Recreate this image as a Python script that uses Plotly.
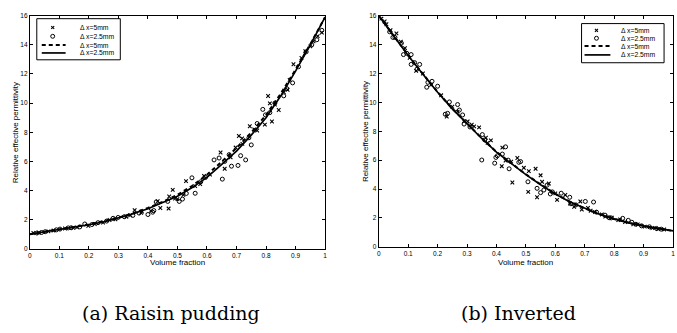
import plotly.graph_objects as go

# ---------------- data: (a) Raisin pudding ----------------
rp_cross_f = [0.012, 0.063, 0.119, 0.147, 0.198, 0.248, 0.27, 0.327, 0.355, 0.377, 0.433, 0.442, 0.470,
              0.472, 0.484, 0.492, 0.50, 0.529, 0.577, 0.59, 0.646, 0.66, 0.68, 0.697, 0.708, 0.719,
              0.745, 0.77, 0.796, 0.807, 0.813, 0.82, 0.843, 0.86, 0.873, 0.893, 0.933, 0.961, 0.989,
              0.03, 0.08, 0.16, 0.22, 0.29, 0.34, 0.38, 0.41, 0.52, 0.56, 0.61, 0.72, 0.76, 0.83,
              0.88, 0.92, 0.95, 0.975]
rp_cross_v = [1.08, 1.19, 1.39, 1.43, 1.57, 1.79, 1.97, 2.2, 2.65, 2.47, 3.27, 2.80, 2.76,
              3.59, 4.04, 3.45, 3.41, 4.64, 4.44, 5.0, 6.61, 5.49, 6.28, 6.95, 7.74, 7.58,
              8.41, 8.12, 8.52, 10.49, 9.98, 8.74, 9.53, 10.76, 10.92, 12.67, 13.57, 14.24, 14.84,
              1.1, 1.25, 1.47, 1.7, 2.02, 2.3, 2.55, 2.6, 3.7, 4.3, 5.1, 7.2, 8.2, 9.9,
              11.6, 13.1, 13.9, 14.6]
rp_circ_f = [0.024, 0.052, 0.102, 0.13, 0.169, 0.186, 0.231, 0.282, 0.299, 0.349, 0.40, 0.416, 0.428,
             0.467, 0.506, 0.517, 0.549, 0.56, 0.579, 0.624, 0.641, 0.652, 0.675, 0.683, 0.705, 0.714,
             0.731, 0.75, 0.742, 0.789, 0.798, 0.813, 0.86, 0.89, 0.936, 0.972, 0.989,
             0.04, 0.09, 0.14, 0.21, 0.26, 0.32, 0.37, 0.42, 0.53, 0.595, 0.66, 0.77, 0.83, 0.87,
             0.91, 0.955]
rp_circ_v = [1.08, 1.17, 1.35, 1.43, 1.50, 1.70, 1.79, 2.09, 2.15, 2.29, 2.35, 2.51, 3.21,
             3.25, 3.25, 3.41, 4.87, 3.81, 4.6, 6.1, 6.23, 4.78, 6.46, 5.67, 5.72, 6.39,
             6.10, 7.13, 7.62, 9.57, 9.19, 9.35, 10.5, 11.39, 13.52, 14.35, 15.0,
             1.12, 1.3, 1.44, 1.66, 1.9, 2.2, 2.45, 2.62, 3.8, 4.9, 6.0, 8.6, 10.0, 11.0,
             12.5, 14.0]
curve_f = [0.0, 0.05, 0.1, 0.15, 0.2, 0.25, 0.3, 0.35, 0.4, 0.45, 0.5, 0.55, 0.6, 0.65, 0.7,
           0.75, 0.8, 0.85, 0.9, 0.95, 1.0]
rp_dash_v = [1.0, 1.15, 1.32, 1.49, 1.67, 1.88, 2.13, 2.44, 2.8, 3.22, 3.7, 4.32, 5.08, 5.98, 6.92,
             7.98, 9.18, 10.65, 12.3, 14.05, 15.9]
rp_solid_v = [1.0, 1.15, 1.32, 1.48, 1.65, 1.85, 2.1, 2.4, 2.75, 3.15, 3.6, 4.2, 4.9, 5.8, 6.7,
              7.8, 9.0, 10.5, 12.2, 14.0, 15.9]

# ---------------- data: (b) Inverted ----------------
inv_cross_f = [0.009, 0.026, 0.06, 0.089, 0.105, 0.127, 0.178, 0.212, 0.231, 0.268, 0.302, 0.316, 0.324,
               0.341, 0.364, 0.381, 0.42, 0.418, 0.431, 0.454, 0.471, 0.493, 0.51, 0.508, 0.533, 0.538,
               0.55, 0.555, 0.578, 0.606, 0.634, 0.664, 0.685, 0.69, 0.711, 0.735, 0.758, 0.792, 0.814,
               0.837, 0.865, 0.904, 0.949,
               0.02, 0.04, 0.075, 0.15, 0.25, 0.29, 0.37, 0.45, 0.6, 0.65, 0.72, 0.77, 0.82, 0.88,
               0.93, 0.97]
inv_cross_v = [15.8, 15.41, 14.78, 13.76, 13.08, 12.18, 11.21, 10.49, 9.02, 9.36, 8.68, 8.45, 8.34,
               8.27, 7.55, 7.37, 6.87, 5.58, 5.97, 4.45, 6.15, 5.47, 5.24, 3.80, 5.40, 3.43,
               4.95, 4.5, 4.38, 3.25, 3.59, 2.76, 3.14, 2.58, 2.69, 2.40, 2.24, 2.01, 1.85,
               1.72, 1.56, 1.40, 1.22,
               15.6, 15.0, 14.2, 12.0, 9.7, 8.7, 7.2, 5.9, 3.7, 3.0, 2.5, 2.1, 1.9, 1.55,
               1.3, 1.2]
inv_circ_f = [0.037, 0.048, 0.077, 0.084, 0.11, 0.11, 0.122, 0.139, 0.163, 0.181, 0.2, 0.167, 0.226,
              0.234, 0.24, 0.268, 0.274, 0.285, 0.29, 0.352, 0.35, 0.394, 0.398, 0.403, 0.431, 0.42,
              0.443, 0.476, 0.482, 0.507, 0.538, 0.55, 0.561, 0.572, 0.583, 0.62, 0.649, 0.653, 0.702,
              0.73, 0.769, 0.783, 0.829, 0.848, 0.874, 0.893, 0.944,
              0.055, 0.095, 0.13, 0.31, 0.36, 0.44, 0.59, 0.67, 0.74, 0.79, 0.86, 0.92, 0.96]
inv_circ_v = [14.89, 14.5, 14.1, 13.31, 13.31, 12.63, 12.75, 12.63, 11.05, 11.46, 11.12, 11.39, 9.18,
              9.24, 10.03, 9.85, 9.47, 9.13, 8.5, 7.77, 6.01, 5.79, 6.19, 6.3, 6.92, 6.42,
              5.4, 5.85, 5.9, 4.5, 4.05, 3.75, 3.93, 4.27, 3.66, 3.71, 3.43, 2.98, 3.14,
              3.1, 2.19, 2.01, 1.97, 1.83, 1.56, 1.45, 1.27,
              14.5, 13.4, 12.3, 8.3, 7.4, 6.0, 3.8, 2.9, 2.4, 2.0, 1.7, 1.38, 1.22]
inv_dash_v = [16.0, 14.62, 13.27, 11.97, 10.72, 9.57, 8.52, 7.52, 6.57, 5.77, 5.02, 4.32, 3.67,
              3.12, 2.66, 2.26, 1.93, 1.66, 1.45, 1.25, 1.1]
inv_solid_v = [16.0, 14.6, 13.25, 11.95, 10.7, 9.55, 8.5, 7.5, 6.55, 5.75, 5.0, 4.3, 3.65,
               3.1, 2.65, 2.25, 1.92, 1.65, 1.45, 1.25, 1.1]

x_ticks = [0, 0.1, 0.2, 0.3, 0.4, 0.5, 0.6, 0.7, 0.8, 0.9, 1]
x_tick_text = ["0", "0.1", "0.2", "0.3", "0.4", "0.5", "0.6", "0.7", "0.8", "0.9", "1"]
y_ticks = [0, 2, 4, 6, 8, 10, 12, 14, 16]
legend_labels = ["\u0394 x=5mm", "\u0394 x=2.5mm", "\u0394 x=5mm", "\u0394 x=2.5mm"]
captions = ["(a) Raisin pudding", "(b) Inverted"]
x_title = "Volume fraction"
y_title = "Relative effective permittivity"

W, H = 677, 333
# axes boxes in pixels: (left, right, top, bottom)
boxes = [(28, 325, 12, 250), (379, 675, 12, 248)]

fig = go.Figure()

def add_panel(i, cf, cv, of, ov, dv, sv):
    xa = "x" if i == 0 else "x2"
    ya = "y" if i == 0 else "y2"
    fig.add_trace(go.Scatter(x=curve_f, y=dv, mode="lines", xaxis=xa, yaxis=ya,
                             line=dict(color="black", width=2, dash="4px,3px"), showlegend=False))
    fig.add_trace(go.Scatter(x=curve_f, y=sv, mode="lines", xaxis=xa, yaxis=ya,
                             line=dict(color="black", width=1.7), showlegend=False))
    fig.add_trace(go.Scatter(x=cf, y=cv, mode="markers", xaxis=xa, yaxis=ya,
                             marker=dict(symbol="x-thin", size=3.6, color="black",
                                         line=dict(color="black", width=1.1)), showlegend=False))
    fig.add_trace(go.Scatter(x=of, y=ov, mode="markers", xaxis=xa, yaxis=ya,
                             marker=dict(symbol="circle-open", size=4, color="black",
                                         line=dict(color="black", width=1)), showlegend=False))

add_panel(0, rp_cross_f, rp_cross_v, rp_circ_f, rp_circ_v, rp_dash_v, rp_solid_v)
add_panel(1, inv_cross_f, inv_cross_v, inv_circ_f, inv_circ_v, inv_dash_v, inv_solid_v)

tickfont = dict(family="Liberation Sans, Arial, sans-serif", size=6.5, color="black")
axis_common = dict(range=[0, 1], tickvals=x_ticks, ticktext=x_tick_text, ticks="inside", ticklen=3,
                   tickcolor="black", showline=True, mirror="ticks", linecolor="black", linewidth=1,
                   showgrid=False, zeroline=False, tickfont=tickfont)
yaxis_common = dict(range=[0, 16], tickvals=y_ticks, ticks="inside", ticklen=3, tickcolor="black",
                    showline=True, mirror="ticks", linecolor="black", linewidth=1,
                    showgrid=False, zeroline=False, tickfont=tickfont)

def xdom(b):
    return [b[0] / W, b[1] / W]

def ydom(b):
    return [1 - b[3] / H, 1 - b[2] / H]

fig.update_layout(
    width=W, height=H, margin=dict(l=0, r=0, t=0, b=0),
    paper_bgcolor="white", plot_bgcolor="white", showlegend=False,
    xaxis=dict(domain=xdom(boxes[0]), anchor="y", **axis_common),
    yaxis=dict(domain=ydom(boxes[0]), anchor="x", **yaxis_common),
    xaxis2=dict(domain=xdom(boxes[1]), anchor="y2", **axis_common),
    yaxis2=dict(domain=ydom(boxes[1]), anchor="x2", **yaxis_common),
)

shapes = []
annotations = []
labfont = dict(family="Liberation Sans, Arial, sans-serif", size=8, color="black")
legfont = dict(family="Liberation Sans, Arial, sans-serif", size=6.8, color="black")

# legend layout in pixels: box(l, r, t, b), row ys, symbol centre x, line x0,x1, text left x
legends = [
    dict(box=(35, 119, 15, 57), rows=[24, 33, 42, 50], sx=51, lx=(40, 64), tx=76),
    dict(box=(583, 666, 20, 60), rows=[27, 35, 43, 52], sx=598, lx=(586, 612), tx=621),
]

def px2paper(x, y):
    return x / W, 1 - y / H

for k, lg in enumerate(legends):
    l, r, t, b = lg["box"]
    x0, y0 = px2paper(l, b)
    x1, y1 = px2paper(r, t)
    shapes.append(dict(type="rect", xref="paper", yref="paper", x0=x0, y0=y0, x1=x1, y1=y1,
                       line=dict(color="black", width=1), fillcolor="white", layer="above"))
    rows = lg["rows"]
    cx, cy = lg["sx"], rows[0]
    for dx in (-1.5, 1.5):
        a = px2paper(cx - dx, cy - 1.5)
        c = px2paper(cx + dx, cy + 1.5)
        shapes.append(dict(type="line", xref="paper", yref="paper", x0=a[0], y0=a[1], x1=c[0], y1=c[1],
                           line=dict(color="black", width=1.1), layer="above"))
    cy = rows[1]
    a = px2paper(cx - 2, cy + 2)
    c = px2paper(cx + 2, cy - 2)
    shapes.append(dict(type="circle", xref="paper", yref="paper", x0=a[0], y0=a[1], x1=c[0], y1=c[1],
                       line=dict(color="black", width=1), layer="above"))
    for ri, dash, wdt in ((2, "4px,3px", 2), (3, "solid", 1.7)):
        a = px2paper(lg["lx"][0], rows[ri])
        c = px2paper(lg["lx"][1], rows[ri])
        shapes.append(dict(type="line", xref="paper", yref="paper", x0=a[0], y0=a[1], x1=c[0], y1=c[1],
                           line=dict(color="black", width=wdt, dash=dash), layer="above"))
    for ri, txt in enumerate(legend_labels):
        p = px2paper(lg["tx"], rows[ri])
        annotations.append(dict(text=txt, x=p[0], y=p[1], xref="paper", yref="paper",
                                xanchor="left", yanchor="middle", showarrow=False, font=legfont))

for i, bx in enumerate(boxes):
    cxp = (bx[0] + bx[1]) / 2
    p = px2paper(cxp, 264)
    annotations.append(dict(text=x_title, x=p[0], y=p[1], xref="paper", yref="paper",
                            xanchor="center", yanchor="middle", showarrow=False, font=labfont))
    yx = 13 if i == 0 else 365
    p = px2paper(yx, (bx[2] + bx[3]) / 2)
    annotations.append(dict(text=y_title, x=p[0], y=p[1], xref="paper", yref="paper",
                            xanchor="center", yanchor="middle", showarrow=False, textangle=-90,
                            font=labfont))

cap_x = [170, 520]
for i, cap in enumerate(captions):
    p = px2paper(cap_x[i], 316)
    annotations.append(dict(text=cap, x=p[0], y=p[1], xref="paper", yref="paper",
                            xanchor="center", yanchor="middle", showarrow=False,
                            font=dict(family="DejaVu Serif, serif", size=19, color="black")))

fig.update_layout(shapes=shapes, annotations=annotations)
fig.write_html("out.html")
